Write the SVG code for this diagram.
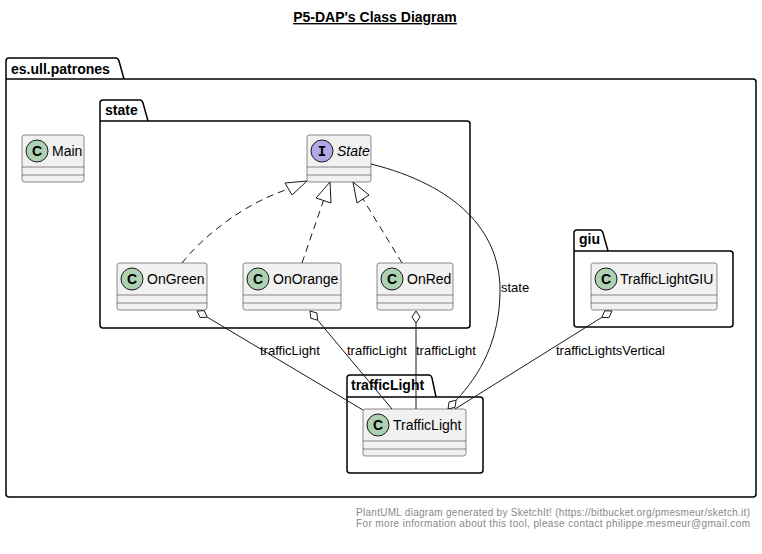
<svg xmlns="http://www.w3.org/2000/svg" width="762" height="554" viewBox="0 0 762 554">
<style>
text{font-family:"Liberation Sans",Arial,sans-serif;fill:#000}
.pkg{fill:none;stroke:#000;stroke-width:1.5}
.pt{font-size:14px;font-weight:bold}
.cls{fill:#F1F1F1;stroke:#181818;stroke-width:0.5}
.sep{stroke:#181818;stroke-width:0.5}
.cn{font-size:14px}
.ci{fill:#ADD1B2;stroke:#181818;stroke-width:1}
.ii{fill:#B4A7E5;stroke:#181818;stroke-width:1}
.cl{font-size:14px;font-weight:bold;text-anchor:middle}
.ln{fill:none;stroke:#181818;stroke-width:1}
.dash{stroke-dasharray:7,5}
.hd{fill:#fff;stroke:#181818;stroke-width:1}
.lb{font-size:13px}
.ft{font-size:10px;fill:#888888}
</style>
<rect width="762" height="554" fill="#fff"/>
<text x="375" y="22" text-anchor="middle" style="font-size:14px;font-weight:bold;text-decoration:underline">P5-DAP's Class Diagram</text>

<g id="pkg-es.ull.patrones">
<path class="pkg" d="M6,61 Q6,58 9,58 L116,58 Q118,58 119,61 L124,79 L753,79 Q756,79 756,82 L756,494 Q756,497 753,497 L9,497 Q6,497 6,494 Z M6,79 L124,79"/>
<text class="pt" x="11" y="74">es.ull.patrones</text>
</g>
<g id="pkg-state">
<path class="pkg" d="M100,103 Q100,100 103,100 L140,100 Q142,100 143,103 L148,121 L467,121 Q470,121 470,124 L470,325 Q470,328 467,328 L103,328 Q100,328 100,325 Z M100,121 L148,121"/>
<text class="pt" x="105" y="115">state</text>
</g>
<g id="pkg-giu">
<path class="pkg" d="M574,233 Q574,230 577,230 L600,230 Q602,230 603,233 L608,251 L730,251 Q733,251 733,254 L733,324 Q733,327 730,327 L577,327 Q574,327 574,324 Z M574,251 L608,251"/>
<text class="pt" x="579" y="244">giu</text>
</g>
<g id="pkg-trafficLight">
<path class="pkg" d="M347,378 Q347,375 350,375 L429,375 Q431,375 432,378 L436,397 L480,397 Q483,397 483,400 L483,470 Q483,473 480,473 L350,473 Q347,473 347,470 Z M347,397 L436,397"/>
<text class="pt" x="351" y="390">trafficLight</text>
</g>

<g id="connectors">
<path class="ln dash" d="M182,263 C200,240 240,205 288.5,189"/>
<polygon class="hd" points="307,181 285,183 292,195"/>
<path class="ln dash" d="M302,263 L323.5,200.5"/>
<polygon class="hd" points="330,182 316,198 331,203"/>
<path class="ln dash" d="M402,263 L363,199"/>
<polygon class="hd" points="353,182 357,203 369,195"/>

<path class="ln" d="M207.3,317.2 L363,410"/>
<polygon class="hd" points="197,311 200.1,317.5 207.3,317.2 204.2,310.6"/>
<path class="ln" d="M317.7,320.2 L392,409"/>
<polygon class="hd" points="310,311 310.8,318.2 317.7,320.2 316.9,313"/>
<path class="ln" d="M416,323 L416,409"/>
<polygon class="hd" points="416,311 420,317 416,323 412,317"/>
<path class="ln" d="M456.1,400.2 C480,375 500,340 500,290 C500,230 455,185 371,164"/>
<polygon class="hd" points="448,409 455,407.3 456.1,400.2 449.1,401.9"/>
<path class="ln" d="M601.8,317.4 L455,409"/>
<polygon class="hd" points="612,311 604.8,310.8 601.8,317.4 609,317.6"/>

<text class="lb" x="260" y="355">trafficLight</text>
<text class="lb" x="347" y="355">trafficLight</text>
<text class="lb" x="416" y="355">trafficLight</text>
<text class="lb" x="501" y="292">state</text>
<text class="lb" x="556" y="355">trafficLightsVertical</text>
</g>

<g id="Main">
<rect class="cls" x="22" y="135" width="62" height="47" rx="2.5"/>
<line class="sep" x1="22" y1="167" x2="84" y2="167"/>
<line class="sep" x1="22" y1="175" x2="84" y2="175"/>
<circle class="ci" cx="37" cy="151" r="11"/>
<text class="cl" x="37" y="156">C</text>
<text class="cn" x="52" y="156">Main</text>
</g>
<g id="State">
<rect class="cls" x="307" y="135" width="64" height="47" rx="2.5"/>
<line class="sep" x1="307" y1="167" x2="371" y2="167"/>
<line class="sep" x1="307" y1="175" x2="371" y2="175"/>
<circle class="ii" cx="322" cy="151" r="11"/>
<text class="cl" x="322" y="156" style="font-family:'Liberation Mono',monospace">I</text>
<text class="cn" x="337" y="156" style="font-style:italic">State</text>
</g>
<g id="OnGreen">
<rect class="cls" x="117" y="263" width="90" height="47" rx="2.5"/>
<line class="sep" x1="117" y1="295" x2="207" y2="295"/>
<line class="sep" x1="117" y1="303" x2="207" y2="303"/>
<circle class="ci" cx="132" cy="279" r="11"/>
<text class="cl" x="132" y="284">C</text>
<text class="cn" x="147" y="284">OnGreen</text>
</g>
<g id="OnOrange">
<rect class="cls" x="243" y="263" width="98" height="47" rx="2.5"/>
<line class="sep" x1="243" y1="295" x2="341" y2="295"/>
<line class="sep" x1="243" y1="303" x2="341" y2="303"/>
<circle class="ci" cx="258" cy="279" r="11"/>
<text class="cl" x="258" y="284">C</text>
<text class="cn" x="273" y="284">OnOrange</text>
</g>
<g id="OnRed">
<rect class="cls" x="377" y="263" width="76" height="47" rx="2.5"/>
<line class="sep" x1="377" y1="295" x2="453" y2="295"/>
<line class="sep" x1="377" y1="303" x2="453" y2="303"/>
<circle class="ci" cx="392" cy="279" r="11"/>
<text class="cl" x="392" y="284">C</text>
<text class="cn" x="407" y="284">OnRed</text>
</g>
<g id="TrafficLightGIU">
<rect class="cls" x="591" y="263" width="126" height="47" rx="2.5"/>
<line class="sep" x1="591" y1="295" x2="717" y2="295"/>
<line class="sep" x1="591" y1="303" x2="717" y2="303"/>
<circle class="ci" cx="606" cy="279" r="11"/>
<text class="cl" x="606" y="284">C</text>
<text class="cn" x="620" y="284">TrafficLightGIU</text>
</g>
<g id="TrafficLight">
<rect class="cls" x="363" y="409" width="103" height="47" rx="2.5"/>
<line class="sep" x1="363" y1="441" x2="466" y2="441"/>
<line class="sep" x1="363" y1="449" x2="466" y2="449"/>
<circle class="ci" cx="378" cy="425" r="11"/>
<text class="cl" x="378" y="430">C</text>
<text class="cn" x="393" y="430">TrafficLight</text>
</g>

<text class="ft" x="356" y="516" textLength="394" lengthAdjust="spacing">PlantUML diagram generated by SketchIt! (https://bitbucket.org/pmesmeur/sketch.it)</text>
<text class="ft" x="356" y="527" textLength="394" lengthAdjust="spacing">For more information about this tool, please contact philippe.mesmeur@gmail.com</text>
</svg>
